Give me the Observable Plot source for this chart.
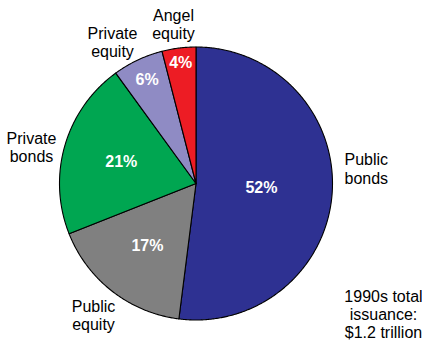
<!DOCTYPE html>
<html><head><meta charset="utf-8">
<script src="https://cdn.jsdelivr.net/npm/d3@7"></script>
<script src="https://cdn.jsdelivr.net/npm/@observablehq/plot@0.6"></script>
<style>html,body{margin:0;padding:0;background:#fff}</style>
</head><body><div id="chart"></div>
<script>
// ---- data ----
const categories = ["Public bonds", "Public equity", "Private bonds", "Private equity", "Angel equity"];
const sliceLabels = ["Public\nbonds", "Public\nequity", "Private\nbonds", "Private\nequity", "Angel\nequity"];
const shares = [52, 17, 21, 6, 4];
const colors = ["#2E3192", "#808080", "#00A651", "#8F8BC4", "#ED1C24"];
const note = "1990s total\nissuance:\n$1.2 trillion";

// ---- layout ----
const W = 422, H = 343;
const cx = 195.5, cy = 183, R = 136.5;
const pctRadius = [0.48, 0.58, 0.57, 0.84, 0.89];
const outerPos = [[344, 168, "start"], [93, 314.5, "middle"], [31, 146.5, "middle"], [112, 41.5, "middle"], [173, 23.5, "middle"]];
const notePos = [383, 313.5];
const font = "'Liberation Sans', Arial, Helvetica, sans-serif";

const arcs = d3.pie().sort(null).value(d => d)(shares);
const px = (a, r) => cx + r * Math.sin(a);
const py = (a, r) => cy - r * Math.cos(a);

const sliceMarks = arcs.map((p, i) => {
  const pts = [{x: cx, y: cy}];
  const n = Math.max(2, Math.ceil((p.endAngle - p.startAngle) / (Math.PI / 360)));
  for (let k = 0; k <= n; k++) {
    const a = p.startAngle + (p.endAngle - p.startAngle) * k / n;
    pts.push({x: px(a, R), y: py(a, R)});
  }
  return Plot.line(pts, {x: "x", y: "y", fill: colors[i], stroke: "black", strokeWidth: 1.1, curve: "linear-closed"});
});

const pctData = arcs.map((p, i) => {
  const a = (p.startAngle + p.endAngle) / 2;
  return {x: px(a, R * pctRadius[i]), y: py(a, R * pctRadius[i]), t: shares[i] + "%"};
});
const outerData = categories.map((c, i) => ({x: outerPos[i][0], y: outerPos[i][1], anchor: outerPos[i][2], t: sliceLabels[i]}));

const chart = Plot.plot({
  width: W, height: H,
  margin: 0,
  x: {domain: [0, W], range: [0, W], axis: null},
  y: {domain: [0, H], range: [0, H], axis: null},
  style: {fontFamily: font, background: "white", overflow: "visible"},
  marks: [
    ...sliceMarks,
    Plot.text(pctData, {x: "x", y: "y", text: "t", fill: "white", fontWeight: "bold", fontSize: 16}),
    Plot.text(outerData.filter(d => d.anchor === "start"), {x: "x", y: "y", text: "t", fill: "black", fontSize: 16, textAnchor: "start", lineHeight: 1.18}),
    Plot.text(outerData.filter(d => d.anchor === "middle"), {x: "x", y: "y", text: "t", fill: "black", fontSize: 16, textAnchor: "middle", lineHeight: 1.18}),
    Plot.text([{x: notePos[0], y: notePos[1], t: note}], {x: "x", y: "y", text: "t", fill: "black", fontSize: 16, textAnchor: "middle", lineHeight: 1.15})
  ]
});
document.getElementById("chart").appendChild(chart);
</script>
</body></html>
